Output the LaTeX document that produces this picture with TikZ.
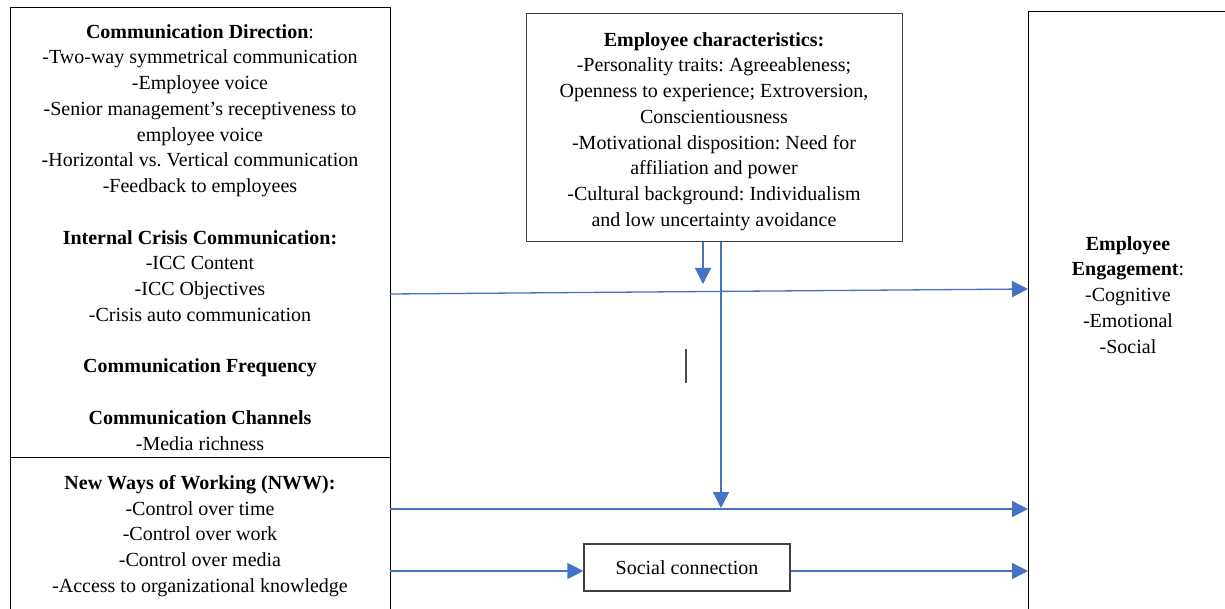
\documentclass[tikz,border=0pt]{standalone}
\usepackage{fontspec}
\setmainfont{Liberation Serif}
\usetikzlibrary{arrows.meta}
\definecolor{arrblue}{HTML}{4472C4}
\definecolor{boxgray}{HTML}{404040}
\frenchspacing
\begin{document}
\begin{tikzpicture}[x=1pt,y=-1pt,
  box/.style={draw=black,line width=1.2pt,inner sep=0pt},
  txt/.style={align=center,inner sep=0pt,font=\fontsize{20}{25.75}\selectfont\frenchspacing},
  conn/.style={draw=arrblue,line width=1.3pt,-{Triangle[length=16pt,width=16pt]}},
]
\useasboundingbox (0,0) rectangle (1225,609);
\clip (0,0) rectangle (1225,609);
% boxes
\node[box,anchor=north west,minimum width=380pt,minimum height=450pt] (cdbox) at (10,7) {};
\node[box,anchor=north west,minimum width=380pt,minimum height=180pt] (nwwbox) at (10,457) {};
\node[box,draw=boxgray,anchor=north west,minimum width=376pt,minimum height=228pt] (ecbox) at (526,13) {};
\node[box,anchor=north west,minimum width=240pt,minimum height=640pt] (engbox) at (1028,11) {};
\node[box,draw=boxgray,txt,minimum width=206pt,minimum height=47pt] (social) at (687,567.5) {Social connection};
% texts
\node[txt,anchor=north] (cdtext) at (200,24) {\textbf{Communication Direction}:\\
-Two-way symmetrical communication\\
-Employee voice\\
-Senior management’s receptiveness to\\
employee voice\\
-Horizontal vs. Vertical communication\\
-Feedback to employees\\[25.75pt]
\textbf{Internal Crisis Communication:}\\
-ICC Content\\
-ICC Objectives\\
-Crisis auto communication\\[25.75pt]
\textbf{Communication Frequency}\\[25.75pt]
\textbf{Communication Channels}\\
-Media richness};
\node[txt,anchor=north] (nwwtext) at (200,475) {\textbf{New Ways of Working (NWW):}\\
-Control over time\\
-Control over work\\
-Control over media\\
-Access to organizational knowledge};
\node[txt,anchor=north] (ectext) at (714,32) {\textbf{Employee characteristics:}\\
-Personality traits: Agreeableness;\\
Openness to experience; Extroversion,\\
Conscientiousness\\
-Motivational disposition: Need for\\
affiliation and power\\
-Cultural background: Individualism\\
and low uncertainty avoidance};
\node[txt,anchor=north] (engtext) at (1128,236) {\textbf{Employee}\\
\textbf{Engagement}:\\
-Cognitive\\
-Emotional\\
-Social};
% connector end points
\coordinate (a1) at (390,294);
\coordinate (b1) at (1028,289);
\coordinate (c1) at (703,284);
\coordinate (c2) at (721,508);
\coordinate (a2) at (390,509);
\coordinate (b2) at (1028,509);
\coordinate (a3) at (390,571);
\coordinate (b3) at (1028,571);
% connectors
\draw[conn] (a1) -- (b1);
\draw[conn] (ecbox.south -| c1) -- (c1);
\draw[conn] (ecbox.south -| c2) -- (c2);
\draw[conn] (a2) -- (b2);
\draw[conn] (a3) -- (a3 -| social.west);
\draw[conn] (a3 -| social.east) -- (b3);
% stray mark
\draw[gray!60!black,line width=1.5pt] (686,349) -- (686,383);
\end{tikzpicture}
\end{document}
